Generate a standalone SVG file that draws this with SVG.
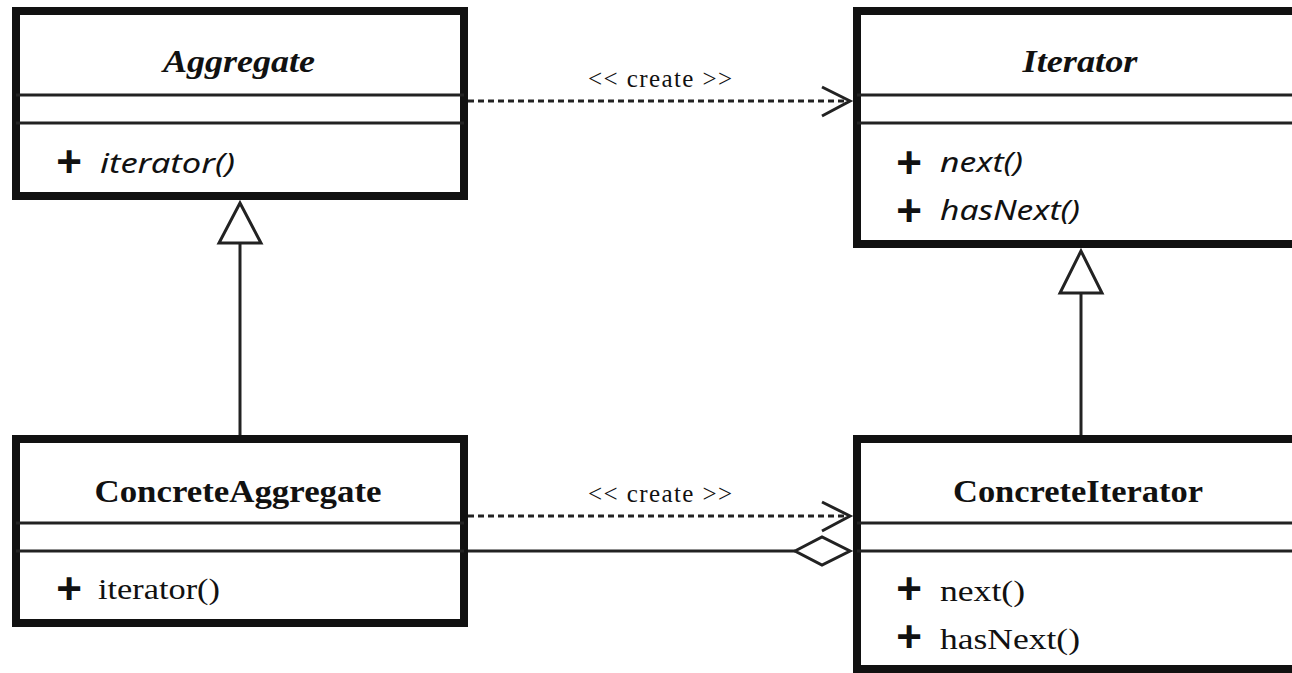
<svg xmlns="http://www.w3.org/2000/svg" width="1292" height="673" viewBox="0 0 1292 673">
  <style>
    .box { fill: #fff; stroke: #111; stroke-width: 8; }
    .div { stroke: #222; stroke-width: 3; }
    .title { font-family: "Liberation Serif", "Times New Roman", serif; font-size: 32px; font-weight: bold; fill: #111; text-anchor: middle; }
    .abstract { font-style: italic; }
    .plus { font-family: "Liberation Sans", Arial, sans-serif; font-size: 44px; font-weight: bold; fill: #111; text-anchor: middle; }
    .op { font-family: "Liberation Serif", "Times New Roman", serif; font-size: 30px; fill: #111; }
    .opi { font-family: "Noto Sans", "Liberation Sans", sans-serif; font-size: 28px; font-style: italic; fill: #111; }
    .stereo { font-family: "Liberation Serif", "Times New Roman", serif; font-size: 25px; fill: #111; text-anchor: middle; }
    .line { fill: none; stroke: #222; stroke-width: 3; }
    .dash { fill: none; stroke: #222; stroke-width: 3; stroke-dasharray: 6 4; }
    .head { fill: #fff; stroke: #222; stroke-width: 3; stroke-linejoin: miter; }
  </style>
  <rect width="1292" height="673" fill="#fff"/>

  <!-- relationships -->
  <g id="connectors">
    <!-- Aggregate creates Iterator -->
    <line class="dash" x1="468" y1="101" x2="849" y2="101"/>
    <polyline class="line" points="822,87 850,101 822,116"/>
    <text class="stereo" x="660" y="87" textLength="144" lengthAdjust="spacing">&lt;&lt; create &gt;&gt;</text>

    <!-- ConcreteAggregate creates ConcreteIterator -->
    <line class="dash" x1="468" y1="516" x2="849" y2="516"/>
    <polyline class="line" points="822,502 850,516 822,531"/>
    <text class="stereo" x="660" y="502" textLength="144" lengthAdjust="spacing">&lt;&lt; create &gt;&gt;</text>

    <!-- ConcreteIterator aggregates ConcreteAggregate -->
    <line class="line" x1="468" y1="551" x2="795" y2="551"/>
    <polygon class="head" points="795,551 822,537 850,551 822,565"/>

    <!-- generalizations -->
    <line class="line" x1="240" y1="243" x2="240" y2="435"/>
    <polygon class="head" points="240,203 219,243 261,243"/>
    <line class="line" x1="1081" y1="293" x2="1081" y2="435"/>
    <polygon class="head" points="1081,251 1060,293 1102,293"/>
  </g>

  <g id="aggregate">
    <rect class="box" x="16" y="11" width="448" height="185"/>
    <line class="div" x1="16" y1="95" x2="464" y2="95"/>
    <line class="div" x1="16" y1="123" x2="464" y2="123"/>
    <text class="title abstract" x="239" y="72" textLength="152" lengthAdjust="spacingAndGlyphs">Aggregate</text>
    <text class="plus" x="69" y="177">+</text>
    <text class="opi" x="100" y="173" textLength="135" lengthAdjust="spacingAndGlyphs">iterator()</text>
  </g>

  <g id="iterator">
    <rect class="box" x="857" y="11" width="448" height="233"/>
    <line class="div" x1="857" y1="95" x2="1305" y2="95"/>
    <line class="div" x1="857" y1="123" x2="1305" y2="123"/>
    <text class="title abstract" x="1080" y="72" textLength="115" lengthAdjust="spacingAndGlyphs">Iterator</text>
    <text class="plus" x="909" y="178">+</text>
    <text class="opi" x="940" y="172" textLength="83" lengthAdjust="spacingAndGlyphs">next()</text>
    <text class="plus" x="909" y="226">+</text>
    <text class="opi" x="940" y="220" textLength="140" lengthAdjust="spacingAndGlyphs">hasNext()</text>
  </g>

  <g id="concrete-aggregate">
    <rect class="box" x="16" y="439" width="448" height="184"/>
    <line class="div" x1="16" y1="523" x2="464" y2="523"/>
    <line class="div" x1="16" y1="551" x2="464" y2="551"/>
    <text class="title" x="238" y="502" textLength="287" lengthAdjust="spacingAndGlyphs">ConcreteAggregate</text>
    <text class="plus" x="69" y="604">+</text>
    <text class="op" x="98" y="599" textLength="122" lengthAdjust="spacingAndGlyphs">iterator()</text>
  </g>

  <g id="concrete-iterator">
    <rect class="box" x="857" y="439" width="448" height="230"/>
    <line class="div" x1="857" y1="523" x2="1305" y2="523"/>
    <line class="div" x1="857" y1="551" x2="1305" y2="551"/>
    <text class="title" x="1078" y="502" textLength="250" lengthAdjust="spacingAndGlyphs">ConcreteIterator</text>
    <text class="plus" x="909" y="604">+</text>
    <text class="op" x="940" y="601" textLength="85" lengthAdjust="spacingAndGlyphs">next()</text>
    <text class="plus" x="909" y="652">+</text>
    <text class="op" x="940" y="649" textLength="140" lengthAdjust="spacingAndGlyphs">hasNext()</text>
  </g>
</svg>
